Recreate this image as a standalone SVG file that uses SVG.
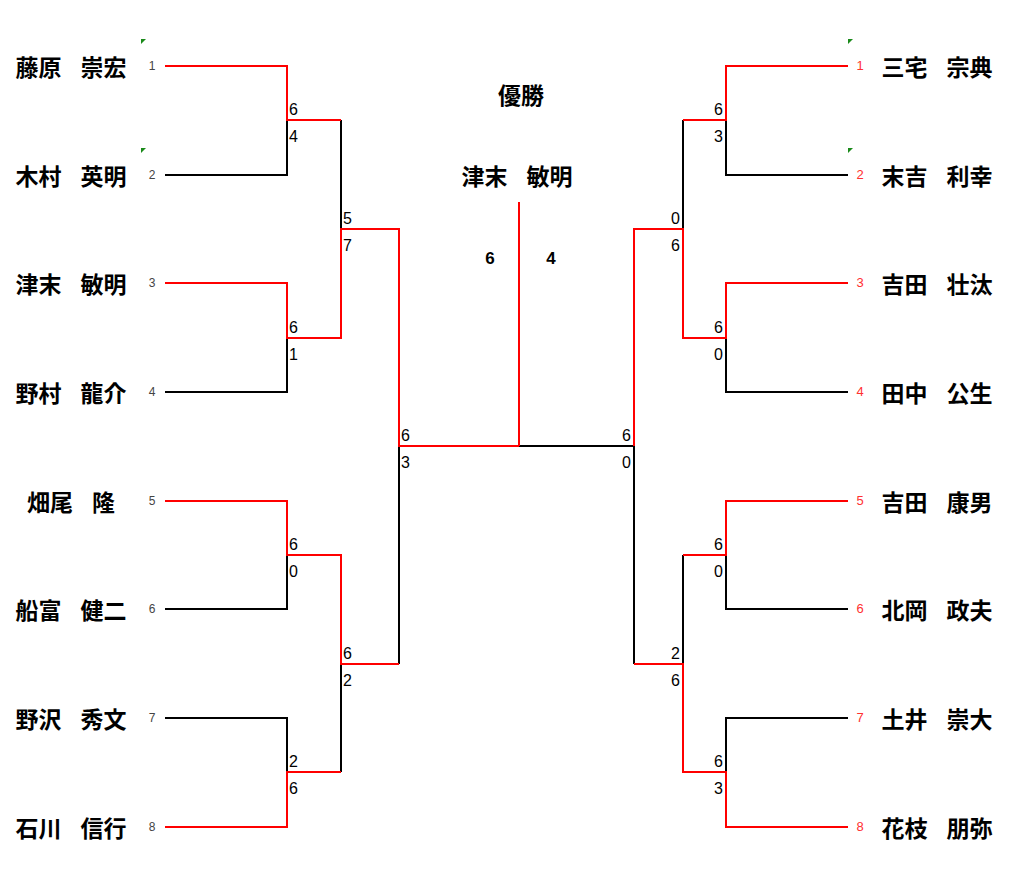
<svg xmlns="http://www.w3.org/2000/svg" width="1024" height="882" viewBox="0 0 1024 882">
<style>
.w{fill:none;stroke:#ff0000;stroke-width:2}
.l{fill:none;stroke:#000;stroke-width:2}
.nm{font-family:"Noto Sans CJK JP","Noto Sans",sans-serif;font-size:23px;font-weight:bold;fill:#000;text-anchor:middle}
.sd{font-family:"Liberation Sans",Arial,sans-serif;font-size:12px;fill:#444;text-anchor:middle}
.sdr{font-family:"Liberation Sans",Arial,sans-serif;font-size:13px;fill:#ff3030;text-anchor:middle}
.sc{font-family:"Liberation Sans",Arial,sans-serif;font-size:16px;fill:#000}
.scr{font-family:"Liberation Sans",Arial,sans-serif;font-size:16px;fill:#000;text-anchor:end}
.fs{font-family:"Liberation Sans",Arial,sans-serif;font-size:17px;font-weight:bold;fill:#000;text-anchor:middle}
.tri{fill:#1a8a1a}
</style>
<rect width="1024" height="882" fill="#fff"/>
<g id="connectors">
<path class="l" d="M165,175 H287 V120"/>
<path class="l" d="M341,120 V229"/>
<path class="l" d="M165,392 H287 V338"/>
<path class="l" d="M165,609 H287 V555"/>
<path class="l" d="M165,718 H287 V772"/>
<path class="l" d="M341,772 V664"/>
<path class="l" d="M399,664 V446"/>
<path class="l" d="M848,175 H726 V120"/>
<path class="l" d="M683,120 V229"/>
<path class="l" d="M848,392 H726 V338"/>
<path class="l" d="M634,446 H519"/>
<path class="l" d="M848,609 H726 V555"/>
<path class="l" d="M683,555 V664"/>
<path class="l" d="M848,718 H726 V772"/>
<path class="l" d="M634,664 V446"/>
<path class="w" d="M165,66 H287 V120 H341"/>
<path class="w" d="M165,283 H287 V338 H341 V229 H399 V446 H519"/>
<path class="w" d="M519,202 V446"/>
<path class="w" d="M165,501 H287 V555 H341 V664 H399"/>
<path class="w" d="M165,827 H287 V772 H341"/>
<path class="w" d="M848,66 H726 V120 H683"/>
<path class="w" d="M848,283 H726 V338 H683 V229 H634 V446"/>
<path class="w" d="M848,501 H726 V555 H683"/>
<path class="w" d="M848,827 H726 V772 H683 V664 H634"/>
</g>
<g id="scores">
<text class="sc" x="289" y="115">6</text><text class="sc" x="289" y="142">4</text>
<text class="sc" x="289" y="333">6</text><text class="sc" x="289" y="360">1</text>
<text class="sc" x="289" y="550">6</text><text class="sc" x="289" y="577">0</text>
<text class="sc" x="289" y="767">2</text><text class="sc" x="289" y="794">6</text>
<text class="sc" x="343" y="224">5</text><text class="sc" x="343" y="251">7</text>
<text class="sc" x="343" y="659">6</text><text class="sc" x="343" y="686">2</text>
<text class="sc" x="401" y="441">6</text><text class="sc" x="401" y="468">3</text>
<text class="scr" x="723" y="115">6</text><text class="scr" x="723" y="142">3</text>
<text class="scr" x="723" y="333">6</text><text class="scr" x="723" y="360">0</text>
<text class="scr" x="723" y="550">6</text><text class="scr" x="723" y="577">0</text>
<text class="scr" x="723" y="767">6</text><text class="scr" x="723" y="794">3</text>
<text class="scr" x="680" y="224">0</text><text class="scr" x="680" y="251">6</text>
<text class="scr" x="680" y="659">2</text><text class="scr" x="680" y="686">6</text>
<text class="scr" x="631" y="441">6</text><text class="scr" x="631" y="468">0</text>
<text class="fs" x="490" y="264">6</text><text class="fs" x="551" y="264">4</text>
</g>
<g id="title">
<text class="nm" x="521" y="104">優勝</text>
<text class="nm" x="517" y="185">津末<tspan dx="-4">　</tspan>敏明</text>
</g>
<g id="left-players">
<g id="L1"><text class="nm" x="71" y="76">藤原<tspan dx="-4">　</tspan>崇宏</text><text class="sd" x="152" y="70">1</text><polygon class="tri" points="141,39 146,39 141,44"/></g>
<g id="L2"><text class="nm" x="71" y="185">木村<tspan dx="-4">　</tspan>英明</text><text class="sd" x="152" y="179">2</text><polygon class="tri" points="141,148 146,148 141,153"/></g>
<g id="L3"><text class="nm" x="71" y="293">津末<tspan dx="-4">　</tspan>敏明</text><text class="sd" x="152" y="287">3</text></g>
<g id="L4"><text class="nm" x="71" y="402">野村<tspan dx="-4">　</tspan>龍介</text><text class="sd" x="152" y="396">4</text></g>
<g id="L5"><text class="nm" x="71" y="511">畑尾<tspan dx="-4">　</tspan>隆</text><text class="sd" x="152" y="505">5</text></g>
<g id="L6"><text class="nm" x="71" y="619">船富<tspan dx="-4">　</tspan>健二</text><text class="sd" x="152" y="613">6</text></g>
<g id="L7"><text class="nm" x="71" y="728">野沢<tspan dx="-4">　</tspan>秀文</text><text class="sd" x="152" y="722">7</text></g>
<g id="L8"><text class="nm" x="71" y="837">石川<tspan dx="-4">　</tspan>信行</text><text class="sd" x="152" y="831">8</text></g>
</g>
<g id="right-players">
<g id="R1"><text class="nm" x="937" y="76">三宅<tspan dx="-4">　</tspan>宗典</text><text class="sdr" x="860" y="70">1</text><polygon class="tri" points="848,39 853,39 848,44"/></g>
<g id="R2"><text class="nm" x="937" y="185">末吉<tspan dx="-4">　</tspan>利幸</text><text class="sdr" x="860" y="179">2</text><polygon class="tri" points="848,148 853,148 848,153"/></g>
<g id="R3"><text class="nm" x="937" y="293">吉田<tspan dx="-4">　</tspan>壮汰</text><text class="sdr" x="860" y="287">3</text></g>
<g id="R4"><text class="nm" x="937" y="402">田中<tspan dx="-4">　</tspan>公生</text><text class="sdr" x="860" y="396">4</text></g>
<g id="R5"><text class="nm" x="937" y="511">吉田<tspan dx="-4">　</tspan>康男</text><text class="sdr" x="860" y="505">5</text></g>
<g id="R6"><text class="nm" x="937" y="619">北岡<tspan dx="-4">　</tspan>政夫</text><text class="sdr" x="860" y="613">6</text></g>
<g id="R7"><text class="nm" x="937" y="728">土井<tspan dx="-4">　</tspan>崇大</text><text class="sdr" x="860" y="722">7</text></g>
<g id="R8"><text class="nm" x="937" y="837">花枝<tspan dx="-4">　</tspan>朋弥</text><text class="sdr" x="860" y="831">8</text></g>
</g>
</svg>
